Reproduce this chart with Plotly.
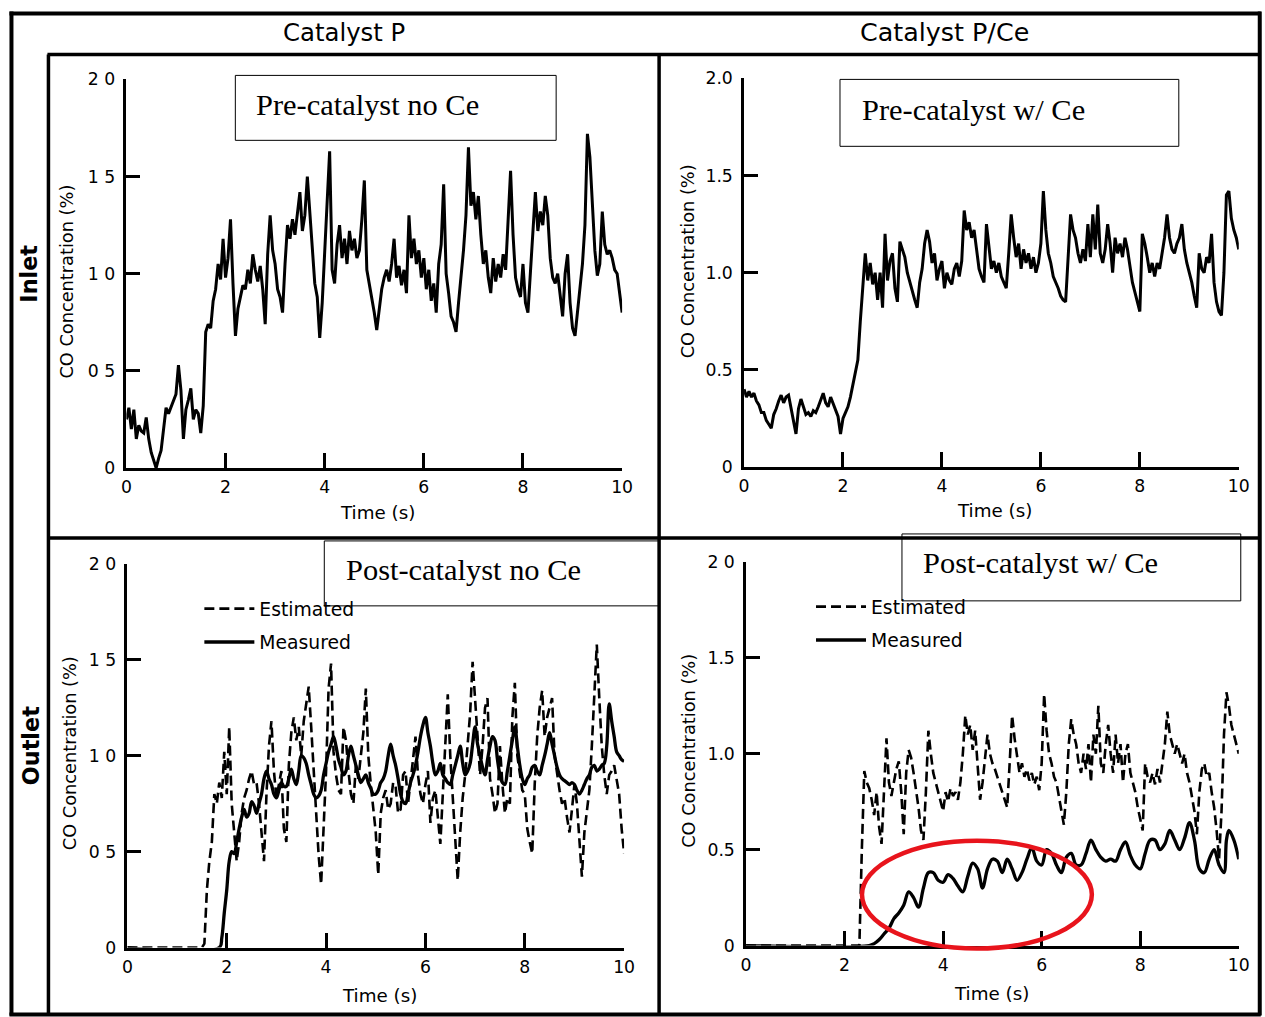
import plotly.graph_objects as go

# ---------------- data (time s, CO concentration %) ----------------
inlet_no_ce = [(0.00,0.25),(0.05,0.31),(0.10,0.20),(0.15,0.30),(0.20,0.15),(0.25,0.22),(0.30,0.19),(0.35,0.18),(0.40,0.26),(0.45,0.15),(0.50,0.08),(0.55,0.04),(0.60,0.00),(0.65,0.05),(0.70,0.09),(0.75,0.20),(0.80,0.31),(0.85,0.28),(0.90,0.31),(0.95,0.34),(1.00,0.38),(1.05,0.53),(1.10,0.40),(1.15,0.15),(1.20,0.30),(1.25,0.35),(1.30,0.41),(1.35,0.25),(1.40,0.30),(1.45,0.28),(1.50,0.18),(1.55,0.32),(1.60,0.70),(1.65,0.74),(1.70,0.72),(1.75,0.86),(1.80,0.92),(1.85,1.05),(1.90,0.97),(1.95,1.18),(2.00,0.98),(2.05,1.08),(2.10,1.28),(2.15,0.95),(2.20,0.68),(2.25,0.82),(2.30,0.88),(2.35,0.94),(2.40,0.92),(2.45,1.02),(2.50,0.95),(2.55,1.10),(2.60,1.02),(2.65,0.96),(2.70,1.04),(2.75,0.92),(2.80,0.74),(2.85,1.10),(2.90,1.30),(2.95,1.12),(3.00,1.05),(3.05,0.92),(3.10,0.88),(3.15,0.80),(3.20,1.05),(3.25,1.25),(3.30,1.18),(3.35,1.28),(3.40,1.20),(3.45,1.30),(3.50,1.42),(3.55,1.22),(3.60,1.30),(3.65,1.50),(3.70,1.32),(3.75,1.10),(3.80,0.95),(3.85,0.88),(3.90,0.67),(3.95,0.85),(4.00,1.10),(4.05,1.42),(4.10,1.63),(4.15,1.02),(4.20,0.95),(4.25,1.15),(4.30,1.25),(4.35,1.08),(4.40,1.18),(4.45,1.05),(4.50,1.22),(4.55,1.12),(4.60,1.18),(4.65,1.08),(4.70,1.12),(4.75,1.28),(4.80,1.48),(4.85,1.02),(4.90,0.95),(4.95,0.88),(5.00,0.80),(5.05,0.71),(5.10,0.82),(5.15,0.92),(5.20,0.98),(5.25,1.02),(5.30,0.96),(5.35,1.05),(5.40,1.18),(5.45,0.98),(5.50,1.04),(5.55,0.94),(5.60,1.02),(5.65,0.90),(5.70,1.30),(5.75,1.08),(5.80,1.18),(5.85,1.05),(5.90,1.12),(5.95,0.98),(6.00,1.08),(6.05,0.92),(6.10,1.02),(6.15,0.86),(6.20,0.95),(6.25,0.80),(6.30,1.05),(6.35,1.15),(6.40,1.46),(6.45,1.00),(6.50,0.90),(6.55,0.78),(6.60,0.75),(6.65,0.70),(6.70,0.85),(6.75,0.98),(6.80,1.12),(6.85,1.30),(6.90,1.65),(6.95,1.35),(7.00,1.42),(7.05,1.28),(7.10,1.40),(7.15,1.20),(7.20,1.05),(7.25,1.12),(7.30,0.98),(7.35,0.90),(7.40,1.08),(7.45,0.96),(7.50,1.05),(7.55,0.98),(7.60,1.10),(7.65,1.02),(7.70,1.30),(7.75,1.53),(7.80,1.20),(7.85,0.98),(7.90,0.92),(7.95,0.88),(8.00,1.05),(8.05,0.85),(8.10,0.80),(8.15,1.00),(8.20,1.20),(8.25,1.42),(8.30,1.22),(8.35,1.32),(8.40,1.25),(8.45,1.40),(8.50,1.30),(8.55,1.08),(8.60,0.98),(8.65,0.95),(8.70,1.00),(8.75,0.90),(8.80,0.78),(8.85,1.00),(8.90,1.10),(8.95,0.85),(9.00,0.72),(9.05,0.68),(9.10,0.80),(9.15,0.92),(9.20,1.05),(9.25,1.25),(9.30,1.72),(9.35,1.60),(9.40,1.38),(9.45,1.12),(9.50,0.99),(9.55,1.05),(9.60,1.32),(9.65,1.15),(9.70,1.10),(9.75,1.12),(9.80,1.08),(9.85,1.02),(9.90,1.00),(9.95,0.90),(10.00,0.80)]

inlet_ce = [(0.00,0.40),(0.05,0.36),(0.10,0.39),(0.15,0.36),(0.20,0.38),(0.25,0.34),(0.30,0.32),(0.35,0.28),(0.40,0.28),(0.45,0.24),(0.50,0.22),(0.55,0.20),(0.60,0.27),(0.65,0.30),(0.70,0.34),(0.75,0.37),(0.80,0.33),(0.85,0.36),(0.90,0.37),(0.95,0.30),(1.00,0.25),(1.05,0.17),(1.10,0.30),(1.15,0.35),(1.20,0.31),(1.25,0.27),(1.30,0.28),(1.35,0.26),(1.40,0.29),(1.45,0.28),(1.50,0.31),(1.55,0.34),(1.60,0.38),(1.65,0.33),(1.70,0.31),(1.75,0.36),(1.80,0.33),(1.85,0.30),(1.90,0.26),(1.95,0.17),(2.00,0.25),(2.05,0.28),(2.10,0.31),(2.15,0.36),(2.20,0.42),(2.25,0.48),(2.30,0.55),(2.35,0.75),(2.40,0.95),(2.45,1.10),(2.50,0.96),(2.55,1.05),(2.60,0.94),(2.65,1.00),(2.70,0.86),(2.75,1.00),(2.80,0.82),(2.85,1.20),(2.90,0.96),(2.95,1.06),(3.00,1.10),(3.05,0.92),(3.10,0.85),(3.15,1.16),(3.20,1.12),(3.25,1.08),(3.30,1.00),(3.35,0.95),(3.40,0.90),(3.45,0.86),(3.50,0.82),(3.55,0.95),(3.60,1.02),(3.65,1.15),(3.70,1.22),(3.75,1.16),(3.80,1.05),(3.85,1.10),(3.90,0.96),(3.95,1.02),(4.00,1.06),(4.05,0.92),(4.10,1.00),(4.15,0.96),(4.20,0.94),(4.25,1.02),(4.30,1.05),(4.35,0.98),(4.40,1.06),(4.45,1.32),(4.50,1.22),(4.55,1.26),(4.60,1.18),(4.65,1.22),(4.70,1.12),(4.75,1.02),(4.80,0.98),(4.85,0.95),(4.90,1.25),(4.95,1.15),(5.00,1.02),(5.05,1.06),(5.10,1.00),(5.15,1.05),(5.20,0.98),(5.25,0.95),(5.30,0.92),(5.35,1.10),(5.40,1.30),(5.45,1.18),(5.50,1.08),(5.55,1.15),(5.60,1.02),(5.65,1.12),(5.70,1.05),(5.75,1.10),(5.80,1.02),(5.85,1.08),(5.90,1.00),(5.95,1.05),(6.00,1.15),(6.05,1.42),(6.10,1.22),(6.15,1.10),(6.20,1.05),(6.25,0.98),(6.30,0.95),(6.35,0.92),(6.40,0.88),(6.45,0.86),(6.50,0.85),(6.55,1.10),(6.60,1.30),(6.65,1.22),(6.70,1.18),(6.75,1.10),(6.80,1.05),(6.85,1.12),(6.90,1.06),(6.95,1.25),(7.00,1.08),(7.05,1.30),(7.10,1.12),(7.15,1.35),(7.20,1.10),(7.25,1.05),(7.30,1.12),(7.35,1.25),(7.40,1.15),(7.45,1.00),(7.50,1.18),(7.55,1.10),(7.60,1.15),(7.65,1.08),(7.70,1.18),(7.75,1.12),(7.80,1.02),(7.85,0.95),(7.90,0.90),(7.95,0.85),(8.00,0.80),(8.05,1.20),(8.10,1.15),(8.15,1.08),(8.20,1.00),(8.25,1.05),(8.30,0.98),(8.35,1.05),(8.40,1.02),(8.45,1.10),(8.50,1.18),(8.55,1.30),(8.60,1.18),(8.65,1.12),(8.70,1.10),(8.75,1.15),(8.80,1.18),(8.85,1.25),(8.90,1.12),(8.95,1.05),(9.00,1.00),(9.05,0.95),(9.10,0.88),(9.15,0.82),(9.20,1.10),(9.25,1.02),(9.30,1.00),(9.35,1.08),(9.40,1.05),(9.45,1.20),(9.50,0.95),(9.55,0.85),(9.60,0.80),(9.65,0.78),(9.70,1.00),(9.75,1.40),(9.80,1.42),(9.85,1.28),(9.90,1.22),(9.95,1.18),(10.00,1.12)]

outlet_no_ce_est = [(0.00,0.00),(1.50,0.00),(1.55,0.02),(1.60,0.30),(1.65,0.45),(1.70,0.55),(1.75,0.80),(1.80,0.75),(1.85,0.86),(1.90,0.78),(1.95,1.02),(2.00,0.80),(2.05,1.15),(2.10,0.75),(2.15,0.60),(2.20,0.45),(2.25,0.55),(2.30,0.70),(2.35,0.78),(2.40,0.82),(2.45,0.88),(2.50,0.92),(2.55,0.85),(2.60,0.86),(2.65,0.75),(2.70,0.62),(2.75,0.45),(2.80,0.80),(2.85,1.05),(2.90,1.18),(2.95,0.92),(3.00,0.78),(3.05,0.85),(3.10,0.92),(3.15,0.62),(3.20,0.55),(3.25,0.95),(3.30,1.12),(3.35,1.20),(3.40,1.08),(3.45,1.15),(3.50,1.00),(3.55,1.18),(3.60,1.28),(3.65,1.36),(3.70,1.15),(3.75,0.92),(3.80,0.70),(3.85,0.48),(3.90,0.33),(3.95,0.60),(4.00,0.92),(4.05,1.35),(4.10,1.48),(4.15,1.02),(4.20,0.90),(4.25,0.82),(4.30,0.80),(4.35,1.15),(4.40,1.08),(4.45,0.92),(4.50,0.80),(4.55,0.75),(4.60,0.95),(4.65,0.88),(4.70,1.00),(4.75,1.12),(4.80,1.35),(4.85,1.00),(4.90,0.85),(4.95,0.72),(5.00,0.60),(5.05,0.38),(5.10,0.70),(5.15,0.78),(5.20,0.82),(5.25,0.72),(5.30,0.75),(5.35,0.86),(5.40,0.84),(5.45,0.70),(5.50,0.72),(5.55,0.90),(5.60,0.92),(5.65,0.75),(5.70,0.85),(5.75,0.98),(5.80,1.10),(5.85,0.90),(5.90,0.80),(5.95,0.75),(6.00,0.85),(6.05,0.92),(6.10,0.65),(6.15,0.78),(6.20,0.82),(6.25,0.68),(6.30,0.54),(6.35,0.80),(6.40,1.05),(6.45,1.32),(6.50,1.00),(6.55,0.80),(6.60,0.60),(6.65,0.35),(6.70,0.60),(6.75,0.78),(6.80,0.90),(6.85,1.05),(6.90,1.22),(6.95,1.49),(7.00,1.30),(7.05,1.10),(7.10,0.90),(7.15,1.05),(7.20,1.25),(7.25,1.30),(7.30,0.88),(7.35,0.80),(7.40,0.70),(7.45,0.75),(7.50,1.05),(7.55,0.85),(7.60,0.70),(7.65,0.78),(7.70,0.75),(7.75,1.20),(7.80,1.38),(7.85,1.00),(7.90,0.90),(7.95,0.82),(8.00,0.80),(8.05,0.62),(8.10,0.55),(8.15,0.49),(8.20,0.85),(8.25,1.10),(8.30,1.25),(8.35,1.34),(8.40,1.10),(8.45,1.20),(8.50,1.25),(8.55,1.30),(8.60,1.00),(8.65,0.90),(8.70,0.82),(8.75,0.75),(8.80,0.78),(8.85,0.68),(8.90,0.60),(8.95,0.72),(9.00,0.85),(9.05,0.75),(9.10,0.55),(9.15,0.37),(9.20,0.60),(9.25,0.72),(9.30,0.82),(9.35,1.05),(9.40,1.35),(9.45,1.58),(9.50,1.30),(9.55,1.05),(9.60,0.90),(9.65,0.80),(9.70,0.90),(9.75,0.92),(9.80,0.95),(9.85,0.88),(9.90,0.80),(9.95,0.62),(10.00,0.49)]

outlet_no_ce_meas = [(0.00,0.00),(1.85,0.00),(1.90,0.05),(1.95,0.18),(2.00,0.30),(2.05,0.45),(2.10,0.50),(2.15,0.49),(2.20,0.55),(2.25,0.62),(2.30,0.68),(2.35,0.72),(2.40,0.68),(2.45,0.70),(2.50,0.76),(2.55,0.74),(2.60,0.70),(2.65,0.75),(2.70,0.80),(2.75,0.88),(2.80,0.92),(2.85,0.88),(2.90,0.85),(2.95,0.80),(3.00,0.78),(3.05,0.82),(3.10,0.86),(3.15,0.84),(3.20,0.84),(3.25,0.88),(3.30,0.93),(3.35,0.88),(3.40,0.85),(3.45,0.92),(3.50,1.00),(3.55,0.99),(3.60,0.96),(3.65,0.90),(3.70,0.85),(3.75,0.80),(3.80,0.78),(3.85,0.79),(3.90,0.82),(3.95,0.90),(4.00,0.96),(4.05,1.02),(4.10,1.06),(4.15,1.10),(4.20,1.05),(4.25,0.98),(4.30,0.94),(4.35,0.90),(4.40,0.92),(4.45,1.00),(4.50,1.05),(4.55,1.00),(4.60,0.95),(4.65,0.90),(4.70,0.86),(4.75,0.88),(4.80,0.90),(4.85,0.86),(4.90,0.83),(4.95,0.80),(5.00,0.80),(5.05,0.82),(5.10,0.86),(5.15,0.88),(5.20,0.92),(5.25,1.00),(5.30,1.06),(5.35,1.00),(5.40,0.95),(5.45,0.88),(5.50,0.80),(5.55,0.76),(5.60,0.75),(5.65,0.80),(5.70,0.86),(5.75,0.90),(5.80,0.95),(5.85,1.02),(5.90,1.10),(5.95,1.16),(6.00,1.20),(6.05,1.12),(6.10,1.05),(6.15,0.96),(6.20,0.90),(6.25,0.92),(6.30,0.96),(6.35,0.90),(6.40,0.88),(6.45,0.86),(6.50,0.85),(6.55,0.90),(6.60,0.95),(6.65,1.00),(6.70,1.05),(6.75,0.96),(6.80,0.90),(6.85,0.92),(6.90,0.96),(6.95,1.06),(7.00,1.15),(7.05,1.06),(7.10,1.00),(7.15,0.94),(7.20,0.90),(7.25,0.98),(7.30,1.05),(7.35,1.10),(7.40,1.08),(7.45,0.98),(7.50,0.90),(7.55,0.86),(7.60,0.85),(7.65,0.92),(7.70,1.00),(7.75,1.08),(7.80,1.15),(7.85,1.05),(7.90,0.95),(7.95,0.88),(8.00,0.85),(8.05,0.88),(8.10,0.90),(8.15,0.94),(8.20,0.95),(8.25,0.92),(8.30,0.90),(8.35,0.95),(8.40,1.00),(8.45,1.06),(8.50,1.12),(8.55,1.06),(8.60,1.00),(8.65,0.94),(8.70,0.90),(8.75,0.88),(8.80,0.87),(8.85,0.86),(8.90,0.85),(8.95,0.86),(9.00,0.85),(9.05,0.82),(9.10,0.80),(9.15,0.82),(9.20,0.85),(9.25,0.88),(9.30,0.90),(9.35,0.94),(9.40,0.95),(9.45,0.92),(9.50,0.93),(9.55,0.95),(9.60,0.96),(9.65,1.05),(9.70,1.27),(9.75,1.18),(9.80,1.10),(9.85,1.02),(9.90,1.00),(9.95,0.98),(10.00,0.97)]

outlet_ce_est = [(0.00,0.00),(2.30,0.00),(2.35,0.50),(2.40,0.91),(2.45,0.85),(2.50,0.82),(2.55,0.76),(2.60,0.68),(2.65,0.80),(2.70,0.62),(2.75,0.53),(2.80,0.80),(2.85,1.08),(2.90,0.85),(2.95,0.78),(3.00,0.85),(3.05,0.92),(3.10,0.96),(3.15,0.80),(3.20,0.58),(3.25,0.90),(3.30,1.02),(3.35,0.98),(3.40,0.90),(3.45,0.82),(3.50,0.72),(3.55,0.60),(3.60,0.55),(3.65,0.80),(3.70,1.12),(3.75,1.00),(3.80,0.90),(3.85,0.85),(3.90,0.80),(3.95,0.74),(4.00,0.70),(4.05,0.80),(4.10,0.75),(4.15,0.82),(4.20,0.78),(4.25,0.80),(4.30,0.76),(4.35,0.85),(4.40,1.00),(4.45,1.20),(4.50,1.10),(4.55,1.15),(4.60,1.02),(4.65,1.12),(4.70,0.95),(4.75,0.76),(4.80,0.85),(4.85,0.98),(4.90,1.10),(4.95,1.00),(5.00,0.95),(5.05,0.92),(5.10,0.88),(5.15,0.84),(5.20,0.80),(5.25,0.75),(5.30,0.72),(5.35,0.95),(5.40,1.20),(5.45,1.08),(5.50,1.00),(5.55,0.90),(5.60,0.95),(5.65,0.88),(5.70,0.92),(5.75,0.86),(5.80,0.90),(5.85,0.84),(5.90,0.88),(5.95,0.81),(6.00,0.95),(6.05,1.31),(6.10,1.12),(6.15,1.00),(6.20,0.95),(6.25,0.88),(6.30,0.85),(6.35,0.78),(6.40,0.72),(6.45,0.63),(6.50,0.80),(6.55,1.05),(6.60,1.18),(6.65,1.10),(6.70,1.05),(6.75,0.95),(6.80,0.90),(6.85,1.00),(6.90,0.92),(6.95,1.05),(7.00,0.85),(7.05,1.10),(7.10,1.00),(7.15,1.25),(7.20,0.95),(7.25,0.90),(7.30,1.05),(7.35,1.15),(7.40,1.00),(7.45,0.90),(7.50,1.10),(7.55,0.95),(7.60,1.05),(7.65,0.85),(7.70,1.00),(7.75,1.05),(7.80,0.90),(7.85,0.85),(7.90,0.80),(7.95,0.72),(8.00,0.65),(8.05,0.60),(8.10,0.95),(8.15,0.88),(8.20,0.85),(8.25,0.90),(8.30,0.84),(8.35,0.92),(8.40,0.85),(8.45,0.95),(8.50,1.05),(8.55,1.22),(8.60,1.10),(8.65,1.05),(8.70,1.00),(8.75,1.05),(8.80,1.00),(8.85,0.95),(8.90,1.00),(8.95,0.90),(9.00,0.85),(9.05,0.78),(9.10,0.70),(9.15,0.58),(9.20,0.80),(9.25,0.92),(9.30,0.95),(9.35,0.88),(9.40,0.90),(9.45,0.80),(9.50,0.72),(9.55,0.60),(9.60,0.45),(9.65,0.70),(9.70,1.10),(9.75,1.32),(9.80,1.25),(9.85,1.15),(9.90,1.10),(9.95,1.05),(10.00,1.00)]

outlet_ce_meas = [(0.00,0.00),(2.50,0.00),(2.60,0.01),(2.70,0.03),(2.80,0.06),(2.90,0.09),(3.00,0.14),(3.10,0.17),(3.20,0.21),(3.30,0.28),(3.40,0.25),(3.50,0.20),(3.60,0.30),(3.70,0.38),(3.80,0.38),(3.90,0.34),(4.00,0.33),(4.10,0.37),(4.20,0.35),(4.30,0.31),(4.40,0.28),(4.50,0.36),(4.60,0.43),(4.70,0.40),(4.80,0.30),(4.90,0.40),(5.00,0.45),(5.10,0.44),(5.20,0.38),(5.30,0.45),(5.40,0.40),(5.50,0.34),(5.60,0.38),(5.70,0.45),(5.80,0.51),(5.90,0.44),(6.00,0.42),(6.10,0.50),(6.20,0.48),(6.30,0.42),(6.40,0.38),(6.50,0.46),(6.60,0.48),(6.70,0.42),(6.80,0.42),(6.90,0.48),(7.00,0.55),(7.10,0.50),(7.20,0.46),(7.30,0.44),(7.40,0.45),(7.50,0.44),(7.60,0.50),(7.70,0.54),(7.80,0.47),(7.90,0.42),(8.00,0.40),(8.10,0.48),(8.20,0.55),(8.30,0.55),(8.40,0.50),(8.50,0.53),(8.60,0.60),(8.70,0.55),(8.80,0.50),(8.90,0.56),(9.00,0.64),(9.10,0.55),(9.20,0.40),(9.30,0.38),(9.40,0.45),(9.50,0.50),(9.60,0.42),(9.70,0.38),(9.75,0.55),(9.80,0.60),(9.90,0.55),(10.00,0.45)]

x_ticks = [0, 2, 4, 6, 8, 10]
y_ticks = [0, 0.5, 1.0, 1.5, 2.0]
y_labels_scan = ["0", "0 5", "1 0", "1 5", "2 0"]
y_labels_tr = ["0", "0.5", "1.0", "1.5", "2.0"]
y_labels_br = ["0", "0.5", "1.0", "1.5", "2 0"]
col_titles = ["Catalyst P", "Catalyst P/Ce"]
row_titles = ["Inlet", "Outlet"]
panel_titles = ["Pre-catalyst no Ce", "Pre-catalyst w/ Ce", "Post-catalyst no Ce", "Post-catalyst w/ Ce"]

# ---------------- layout helpers ----------------
# Positions are written in pixels of the target picture; these factors map
# them to figure pixels for the page as it is photographed.
SX, MX = 0.988, 5.6
SY, MY = 0.9815, 8.7
W, H = 1274, 1027
def px(x): return (x / SX - MX) / W
def py(y): return 1 - (y / SY - MY) / H
FS = 1 / 0.985  # font compensation

SANS = "DejaVu Sans"
SERIF = "Liberation Serif"

def split(pairs):
    return [p[0] for p in pairs], [p[1] for p in pairs]

fig = go.Figure()

def add_line(pairs, ax, name=None, dash="solid", width=2.5, legend=None, shape="linear"):
    t, v = split(pairs)
    fig.add_trace(go.Scatter(
        x=t, y=v, mode="lines", xaxis="x" + ax, yaxis="y" + ax,
        line=dict(color="black", width=width, dash=dash, shape=shape),
        name=name, showlegend=name is not None,
        legend=legend, legendgroup=name, hoverinfo="skip"))

add_line(inlet_no_ce, "", width=3.0)
add_line(inlet_ce, "2", width=3.0)
add_line(outlet_no_ce_est, "3", name="Estimated", dash="10px,5px", width=2.6, legend="legend")
add_line(outlet_no_ce_meas, "3", name="Measured", width=3.3, legend="legend", shape="spline")
add_line(outlet_ce_est, "4", name="Estimated", dash="10px,5px", width=2.6, legend="legend2")
add_line(outlet_ce_meas, "4", name="Measured", width=3.3, legend="legend2", shape="spline")

tickfont = dict(family=SANS, size=17 * FS, color="black")

def xax(x0, x1, anchor):
    return dict(domain=[px(x0), px(x1)], anchor=anchor, range=[0, 10],
                tickvals=x_ticks, ticktext=[str(v) for v in x_ticks],
                showline=True, linecolor="black", linewidth=2.5,
                ticks="inside", ticklen=15, tickwidth=2.5, tickcolor="black",
                showgrid=False, zeroline=False, tickfont=tickfont,
                ticklabelstandoff=2, fixedrange=True)

def yax(y0, y1, anchor, labels):
    return dict(domain=[py(y0), py(y1)], anchor=anchor, range=[0, 2],
                tickvals=y_ticks, ticktext=labels,
                showline=True, linecolor="black", linewidth=2.5,
                ticks="inside", ticklen=14, tickwidth=2.5, tickcolor="black",
                showgrid=False, zeroline=False, tickfont=tickfont,
                ticklabelstandoff=5, fixedrange=True)

legend_common = dict(bgcolor="rgba(0,0,0,0)", font=dict(family=SANS, size=18.5 * FS, color="black"),
                     traceorder="grouped", tracegroupgap=6, itemwidth=50,
                     xanchor="left", yanchor="top")

fig.update_layout(
    width=W, height=H, autosize=False,
    margin=dict(l=0, r=0, t=0, b=0),
    paper_bgcolor="white", plot_bgcolor="rgba(0,0,0,0)",
    xaxis=xax(127, 623, "y"), yaxis=yax(467, 78, "x", y_labels_scan),
    xaxis2=xax(745, 1240, "y2"), yaxis2=yax(466, 77, "x2", y_labels_tr),
    xaxis3=xax(128, 625, "y3"), yaxis3=yax(947, 563, "x3", y_labels_scan),
    xaxis4=xax(747, 1240, "y4"), yaxis4=yax(945, 561, "x4", y_labels_br),
    legend=dict(x=px(200), y=py(589), **legend_common),
    legend2=dict(x=px(812), y=py(587), **legend_common),
)

shapes = []
def line(x0, y0, x1, y1, w=3):
    shapes.append(dict(type="line", xref="paper", yref="paper",
                       x0=px(x0), y0=py(y0), x1=px(x1), y1=py(y1),
                       line=dict(color="black", width=w)))

# outer frame and panel dividers
line(10, 12, 1262, 12, 4)
line(12, 10, 12, 1015, 4)
line(1261, 10, 1261, 1015, 4)
line(10, 1014, 1262, 1014, 4)
line(48, 53, 1262, 53, 3.5)
line(49, 53, 49, 1015, 3.5)
line(660, 53, 660, 1015, 3.5)
line(49, 537, 1262, 537, 3.5)

# panel title boxes
boxes = [(236, 74, 557, 139), (841, 78, 1180, 145), (325, 540, 660, 605), (903, 533, 1242, 600)]
for (x0, y0, x1, y1) in boxes:
    shapes.append(dict(type="rect", xref="paper", yref="paper",
                       x0=px(x0), y0=py(y1), x1=px(x1), y1=py(y0),
                       line=dict(color="black", width=1), fillcolor="white", layer="below"))

# red highlight ellipse
shapes.append(dict(type="circle", xref="paper", yref="paper",
                   x0=px(863), y0=py(948), x1=px(1093), y1=py(840),
                   line=dict(color="#e8141c", width=4.5)))

fig.update_layout(shapes=shapes)

ann = []
def text(s, x, y, size, family=SANS, angle=0, xanchor="center"):
    ann.append(dict(text=s, x=px(x), y=py(y), xref="paper", yref="paper",
                    showarrow=False, textangle=angle, xanchor=xanchor, yanchor="middle",
                    font=dict(family=family, size=size * FS, color="black")))

text(col_titles[0], 345, 31, 24)
text(col_titles[1], 946, 31, 25)
text("<b>" + row_titles[0] + "</b>", 30, 272, 22, angle=-90)
text("<b>" + row_titles[1] + "</b>", 31, 745, 22, angle=-90)

text(panel_titles[0], 255, 104, 30, family=SERIF, xanchor="left")
text(panel_titles[1], 861, 109, 30, family=SERIF, xanchor="left")
text(panel_titles[2], 345, 569, 30, family=SERIF, xanchor="left")
text(panel_titles[3], 922, 562, 30, family=SERIF, xanchor="left")

ytitle = "CO Concentration (%)"
text(ytitle, 68, 280, 17.5, angle=-90)
text(ytitle, 689, 260, 17.5, angle=-90)
text(ytitle, 70, 752, 17.5, angle=-90)
text(ytitle, 690, 750, 17.5, angle=-90)

text("Time (s)", 378, 512, 18)
text("Time (s)", 996, 510, 18)
text("Time (s)", 380, 995, 18)
text("Time (s)", 993, 993, 18)

fig.update_layout(annotations=ann)

fig.write_html("out.html")
